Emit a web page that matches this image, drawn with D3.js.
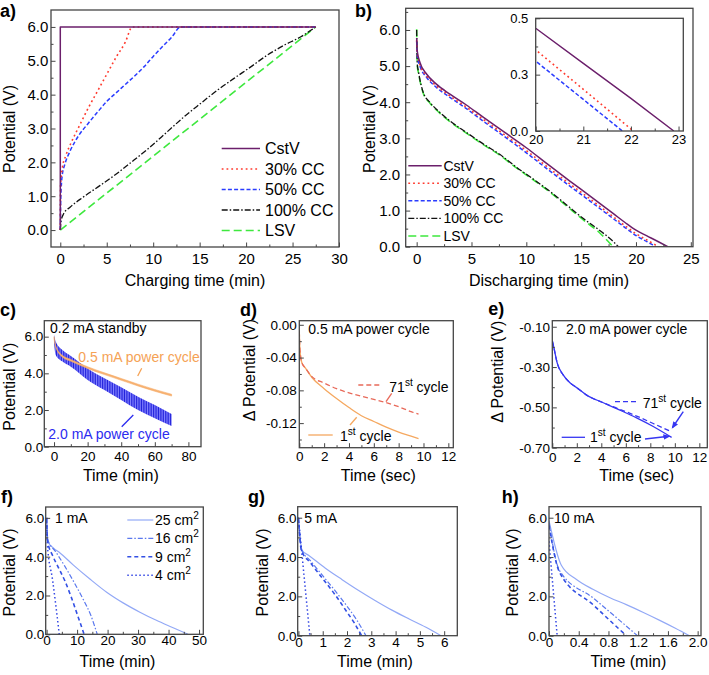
<!DOCTYPE html>
<html><head><meta charset="utf-8">
<script src="https://cdn.jsdelivr.net/npm/d3@7"></script>
<style>body{margin:0;background:#fff}svg{display:block}</style>
</head><body><svg id="chart" width="709" height="675"></svg>
<script>
// ---------------- DATA ----------------
// Panel a: charging
const aCstV_t = [0, 0, 27.5];
const aCstV_v = [0, 6.0, 6.0];
const a30_t = [0, 0.03, 0.2, 0.6, 1.2, 2, 3, 4, 5, 6, 7, 7.75, 27.5];
const a30_v = [0, 1.3, 1.8, 2.2, 2.6, 3.05, 3.6, 4.1, 4.6, 5.1, 5.55, 6.0, 6.0];
const a50_t = [0, 0.05, 0.2, 0.5, 1, 2, 3, 4, 5, 6, 7, 8, 9, 10, 11, 12, 12.95, 27.5];
const a50_v = [0, 0.9, 1.6, 1.95, 2.3, 2.8, 3.15, 3.48, 3.8, 4.05, 4.3, 4.55, 4.82, 5.13, 5.42, 5.7, 6.0, 6.0];
const a100_t = [0, 0.1, 0.36, 1.08, 2.5, 4.3, 6.1, 7.9, 9.7, 11.5, 13.3, 15.1, 16.9, 18.7, 20.5, 22.3, 24.1, 25.9, 27.5];
const a100_v = [0, 0.29, 0.48, 0.68, 0.98, 1.32, 1.67, 2.06, 2.46, 2.9, 3.34, 3.74, 4.13, 4.48, 4.82, 5.17, 5.46, 5.71, 6.0];
const aLSV_t = [0, 27.5];
const aLSV_v = [0, 6.0];

// Panel b: discharging
const bCstV_t = [0, 0.05, 0.3, 0.9, 1.8, 3, 4.5, 6, 8, 10, 12, 14, 16, 18, 19, 20, 21, 22, 22.9];
const bCstV_v = [5.78, 5.42, 5.1, 4.78, 4.5, 4.23, 3.93, 3.6, 3.17, 2.74, 2.27, 1.81, 1.36, 0.9, 0.67, 0.456, 0.30, 0.145, 0];
const b30_t = [0, 0.05, 0.3, 0.9, 1.8, 3, 4.5, 6, 8, 10, 12, 14, 16, 18, 19, 20, 21, 22.05];
const b30_v = [5.72, 5.35, 5.04, 4.73, 4.45, 4.18, 3.87, 3.54, 3.1, 2.66, 2.19, 1.73, 1.28, 0.81, 0.58, 0.36, 0.185, 0];
const b50_t = [0, 0.05, 0.3, 0.9, 1.8, 3, 4.5, 6, 8, 10, 12, 14, 16, 18, 19, 20, 21, 21.82];
const b50_v = [5.68, 5.3, 5.0, 4.69, 4.41, 4.14, 3.83, 3.49, 3.05, 2.6, 2.13, 1.67, 1.22, 0.76, 0.53, 0.31, 0.14, 0];
const b100_t = [0, 0.06, 0.15, 0.6, 1.2, 2.1, 3, 4.5, 6, 7.6, 9.1, 10.6, 12.2, 13.7, 15.2, 16.7, 17.9, 18.4];
const b100_v = [6.0, 5.05, 4.87, 4.27, 4.0, 3.72, 3.49, 3.17, 2.86, 2.55, 2.2, 1.88, 1.52, 1.15, 0.78, 0.45, 0.15, 0];
const bLSV_t = [0, 0.06, 0.15, 0.6, 1.2, 2.1, 3, 4.5, 6, 7.6, 9.1, 10.6, 12.2, 13.7, 15.2, 16.7, 17.9];
const bLSV_v = [6.02, 5.0, 4.83, 4.25, 3.98, 3.7, 3.47, 3.15, 2.84, 2.53, 2.18, 1.86, 1.5, 1.12, 0.74, 0.38, 0];
const legendNames = ["CstV", "30% CC", "50% CC", "100% CC", "LSV"];

// Panel c: standby + power cycles
const c_t = [0, 1, 5, 10, 20, 30, 40, 50, 60, 70];
const cOrangeHi = [6.0, 5.52, 4.98, 4.76, 4.36, 4.03, 3.72, 3.41, 3.12, 2.86];
const cOrangeLo = [5.85, 5.42, 4.88, 4.66, 4.26, 3.93, 3.62, 3.31, 3.02, 2.76];
const cBlueHi = [6.1, 5.73, 5.27, 4.95, 4.27, 3.73, 3.24, 2.73, 2.27, 1.78];
const cBlueLo = [5.6, 5.0, 4.64, 4.36, 3.64, 3.09, 2.55, 2.0, 1.55, 1.13];

// Panel d: 0.5 mA power cycle
const d_t = [0, 0.05, 0.2, 0.5, 1, 2, 3, 4, 5, 6, 7, 8, 9, 9.6];
const d1st = [-0.008, -0.03, -0.046, -0.053, -0.064, -0.078, -0.090, -0.101, -0.111, -0.118, -0.125, -0.131, -0.136, -0.139];
const d71st = [-0.008, -0.03, -0.046, -0.053, -0.063, -0.071, -0.078, -0.083, -0.087, -0.091, -0.095, -0.100, -0.106, -0.109];

// Panel e: 2.0 mA power cycle
const e_t = [0, 0.08, 0.41, 0.9, 1.44, 1.99, 2.8, 4.16, 5.0, 5.52, 6.88, 8.24, 9.74];
const e1st = [-0.17, -0.19, -0.282, -0.340, -0.378, -0.402, -0.439, -0.477, -0.500, -0.514, -0.552, -0.595, -0.649];
const e71st = [-0.17, -0.19, -0.282, -0.340, -0.378, -0.402, -0.439, -0.477, -0.498, -0.510, -0.543, -0.580, -0.621];

// Panels f, g, h: electrode areas
const areaNames = ["25", "16", "9", "4"];
const f25_t = [0, 0.5, 2.2, 4.4, 8.7, 14.2, 19.7, 25.1, 30.6, 36, 41.5, 46.4];
const f25_v = [6.0, 4.75, 4.45, 4.19, 3.58, 2.85, 2.17, 1.62, 1.14, 0.72, 0.34, 0];
const f16_t = [0, 0.3, 3, 6, 9, 12, 14.5, 16.6];
const f16_v = [6.0, 4.9, 4.25, 3.5, 2.68, 1.8, 0.98, 0];
const f9_t = [0, 0.3, 2, 4, 6, 8, 10, 12.3];
const f9_v = [6.0, 4.8, 4.05, 3.4, 2.75, 1.95, 1.05, 0];
const f4_t = [0, 0.2, 2, 4.15];
const f4_v = [6.0, 4.7, 2.75, 0];

const g25_t = [0, 0.15, 0.43, 1.11, 1.8, 2.48, 3.17, 3.85, 4.54, 5.23, 5.87];
const g25_v = [6.0, 4.34, 4.08, 3.43, 2.85, 2.3, 1.78, 1.3, 0.86, 0.44, 0];
const g16_t = [0, 0.12, 0.5, 1, 1.5, 2, 2.4, 2.78];
const g16_v = [6.0, 4.4, 3.8, 3.05, 2.3, 1.5, 0.8, 0];
const g9_t = [0, 0.12, 0.5, 1, 1.5, 2, 2.3, 2.6];
const g9_v = [6.0, 4.35, 3.7, 2.9, 2.1, 1.2, 0.65, 0];
const g4_t = [0, 0.47];
const g4_v = [6.0, 0];

const h25_t = [0, 0.166, 0.37, 0.59, 0.82, 1.04, 1.27, 1.49, 1.7, 1.89];
const h25_v = [5.85, 3.58, 2.86, 2.36, 1.93, 1.58, 1.18, 0.78, 0.38, 0];
const h16_t = [0, 0.14, 0.6, 1.19];
const h16_v = [5.75, 3.32, 1.9, 0];
const h9_t = [0, 0.14, 0.6, 1.04];
const h9_v = [5.6, 3.24, 1.55, 0];
const h4_t = [0, 0.11];
const h4_v = [4.8, 0];

// ---------------- RENDER ----------------
const FONT = '"Liberation Sans", Arial, Helvetica, sans-serif';
const FRAME = '#454545';
const svg = d3.select('#chart');
const defs = svg.append('defs');
let clipN = 0;

function range(a, b, s) { const r = []; for (let v = a; v <= b + 1e-9; v += s) r.push(+v.toFixed(4)); return r; }

function panel(o) {
  const x = d3.scaleLinear().domain(o.xd).range([o.L, o.R]);
  const y = d3.scaleLinear().domain(o.yd).range([o.B, o.T]);
  const g = svg.append('g');
  g.append('rect').attr('x', o.L).attr('y', o.T).attr('width', o.R - o.L).attr('height', o.B - o.T).attr('fill', '#fff');
  const cid = 'clip' + (clipN++);
  defs.append('clipPath').attr('id', cid).append('rect')
    .attr('x', o.L).attr('y', o.T).attr('width', o.R - o.L).attr('height', o.B - o.T);
  const plot = g.append('g').attr('clip-path', `url(#${cid})`);
  const axG = g.append('g');
  const style = s => {
    s.select('.domain').remove();
    s.attr('font-family', FONT).attr('font-size', o.fs);
    s.selectAll('line').attr('stroke', FRAME).attr('stroke-width', 1);
    s.selectAll('text').attr('fill', '#000');
  };
  axG.append('g').attr('transform', `translate(0,${o.B})`)
    .call(d3.axisBottom(x).tickValues(o.xMinor).tickSize(-2.5).tickFormat('')).call(style);
  axG.append('g').attr('transform', `translate(0,${o.B})`)
    .call(d3.axisBottom(x).tickValues(o.xTicks).tickSize(-4.5).tickPadding(o.xPad).tickFormat((d, i) => o.xLabels[i])).call(style);
  axG.append('g').attr('transform', `translate(${o.L},0)`)
    .call(d3.axisLeft(y).tickValues(o.yMinor).tickSize(-2.5).tickFormat('')).call(style);
  axG.append('g').attr('transform', `translate(${o.L},0)`)
    .call(d3.axisLeft(y).tickValues(o.yTicks).tickSize(-4.5).tickPadding(o.yPad).tickFormat((d, i) => o.yLabels[i])).call(style);
  const p = { x, y, g, plot, o };
  p.frame = () => g.append('rect').attr('x', o.L).attr('y', o.T).attr('width', o.R - o.L).attr('height', o.B - o.T)
    .attr('fill', 'none').attr('stroke', FRAME).attr('stroke-width', 1.3);
  return p;
}

function line(p, xs, ys, st) {
  const pts = xs.map((t, i) => [t, ys[i]]);
  p.plot.append('path').datum(pts)
    .attr('d', d3.line().x(d => p.x(d[0])).y(d => p.y(d[1])).curve(st.curve || d3.curveMonotoneX))
    .attr('fill', 'none').attr('stroke', st.c).attr('stroke-width', st.w || 1.3)
    .attr('stroke-dasharray', st.dash || null).attr('stroke-linejoin', 'round');
}

function text(x, y, str, o = {}) {
  const t = svg.append('text').attr('x', x).attr('y', y).attr('font-family', FONT)
    .attr('font-size', o.fs || 14).attr('fill', o.c || '#000').attr('text-anchor', o.anchor || 'start')
    .attr('font-weight', o.bold ? 'bold' : null);
  if (o.rot) t.attr('transform', `rotate(-90,${x},${y})`);
  t.text(str);
  return t;
}
function supText(x, y, base, sup, rest, o = {}) {
  const fs = o.fs || 14;
  const t = svg.append('text').attr('x', x).attr('y', y).attr('font-family', FONT)
    .attr('font-size', fs).attr('fill', o.c || '#000');
  t.append('tspan').text(base);
  t.append('tspan').attr('font-size', fs * 0.72).attr('dy', -fs * 0.42).text(sup);
  if (rest) t.append('tspan').attr('dy', fs * 0.42).text(rest);
  return t;
}
function seg(x1, y1, x2, y2, c, w, dash, marker) {
  const l = svg.append('line').attr('x1', x1).attr('y1', y1).attr('x2', x2).attr('y2', y2)
    .attr('stroke', c).attr('stroke-width', w || 1.3).attr('stroke-dasharray', dash || null);
  if (marker) l.attr('marker-end', `url(#${marker})`);
}
function arrowMarker(id, c) {
  defs.append('marker').attr('id', id).attr('viewBox', '0 0 10 10').attr('refX', 8).attr('refY', 5)
    .attr('markerWidth', 5).attr('markerHeight', 5).attr('orient', 'auto')
    .append('path').attr('d', 'M0,1 L10,5 L0,9 Z').attr('fill', c);
}

// styles
const S = {
  cstv: { c: '#6b1f6b', w: 1.5 },
  cc30: { c: '#ff3a2e', w: 1.6, dash: '1.8,3' },
  cc50: { c: '#2a3cff', w: 1.5, dash: '4,2.2' },
  cc100: { c: '#111', w: 1.3, dash: '6,2,1.5,2' },
  lsv: { c: '#3ee83e', w: 1.6, dash: '8,4' }
};
const lab1 = ["0.0", "1.0", "2.0", "3.0", "4.0", "5.0", "6.0"];

// ---- Panel a ----
const pa = panel({ L: 51, R: 339, T: 10, B: 247, xd: [-1, 30], yd: [-0.5, 6.5], fs: 15,
  xTicks: [0, 5, 10, 15, 20, 25, 30], xLabels: ["0", "5", "10", "15", "20", "25", "30"], xMinor: range(2.5, 27.5, 5),
  yTicks: [0, 1, 2, 3, 4, 5, 6], yLabels: lab1, yMinor: range(0.5, 5.5, 1), xPad: 6.3, yPad: 2.7 });
line(pa, aLSV_t, aLSV_v, S.lsv);
line(pa, a100_t, a100_v, S.cc100);
line(pa, a50_t, a50_v, S.cc50);
line(pa, a30_t, a30_v, S.cc30);
line(pa, aCstV_t, aCstV_v, Object.assign({ curve: d3.curveLinear }, S.cstv));
pa.frame();
const aSt = [S.cstv, S.cc30, S.cc50, S.cc100, S.lsv];
const aRows = [148.5, 169, 189.5, 210, 230.5];
legendNames.forEach((n, i) => {
  seg(221.7, aRows[i], 260, aRows[i], aSt[i].c, aSt[i].w, aSt[i].dash);
  text(265, aRows[i] + 5.7, n, { fs: 16 });
});
text(195, 286, 'Charging time (min)', { fs: 16, anchor: 'middle' });
text(15, 129, 'Potential (V)', { fs: 16, anchor: 'middle', rot: true });
text(0, 16.5, 'a)', { fs: 18, bold: true });

// ---- Panel b ----
const pb = panel({ L: 405.7, R: 693, T: 8.3, B: 246.7, xd: [-1, 25.2], yd: [0, 6.6], fs: 15,
  xTicks: [0, 5, 10, 15, 20, 25], xLabels: ["0", "5", "10", "15", "20", "25"], xMinor: range(2.5, 22.5, 5),
  yTicks: [0, 1, 2, 3, 4, 5, 6], yLabels: lab1, yMinor: range(0.5, 6.5, 1), xPad: 6.6, yPad: 5.7 });
line(pb, bLSV_t, bLSV_v, S.lsv);
line(pb, b100_t, b100_v, S.cc100);
line(pb, b50_t, b50_v, S.cc50);
line(pb, b30_t, b30_v, S.cc30);
line(pb, bCstV_t, bCstV_v, S.cstv);
pb.frame();
const bRows = [165.7, 183.3, 200.8, 218.4, 236];
legendNames.forEach((n, i) => {
  seg(408.3, bRows[i], 441.7, bRows[i], aSt[i].c, aSt[i].w, aSt[i].dash);
  text(443.5, bRows[i] + 5, n, { fs: 14 });
});
text(549, 286, 'Discharging time (min)', { fs: 16, anchor: 'middle' });
text(375, 129, 'Potential (V)', { fs: 16, anchor: 'middle', rot: true });
text(355, 16.5, 'b)', { fs: 18, bold: true });

// inset
const pi = panel({ L: 535.7, R: 683.3, T: 18.3, B: 131, xd: [20, 23.1], yd: [0, 0.5], fs: 13,
  xTicks: [20, 21, 22, 23], xLabels: ["20", "21", "22", "23"], xMinor: [20.5, 21.5, 22.5],
  yTicks: [0, 0.25, 0.5], yLabels: ["0.0", "0.3", "0.5"], yMinor: [0.125, 0.375], xPad: 4, yPad: 7.4 });
line(pi, bCstV_t, bCstV_v, { c: S.cstv.c, w: 1.4, curve: d3.curveLinear });
line(pi, b30_t, b30_v, { c: S.cc30.c, w: 1.6, dash: S.cc30.dash, curve: d3.curveLinear });
line(pi, b50_t, b50_v, { c: S.cc50.c, w: 1.5, dash: S.cc50.dash, curve: d3.curveLinear });
pi.frame();

// ---- Panel c ----
const pat = defs.append('pattern').attr('id', 'hatch').attr('patternUnits', 'userSpaceOnUse')
  .attr('width', 1.7).attr('height', 4);
pat.append('rect').attr('width', 1.7).attr('height', 4).attr('fill', '#8484ff');
pat.append('rect').attr('width', 0.85).attr('height', 4).attr('fill', '#2020da');
const pc = panel({ L: 44.3, R: 201, T: 320.7, B: 446.7, xd: [-5.8, 87.5], yd: [0, 6.87], fs: 13.5,
  xTicks: [0, 20, 40, 60, 80], xLabels: ["0", "20", "40", "60", "80"], xMinor: [10, 30, 50, 70],
  yTicks: [0, 2, 4, 6], yLabels: ["0.0", "2.0", "4.0", "6.0"], yMinor: [1, 3, 5], xPad: 5, yPad: 1 });
const cBlue = c_t.map((t, i) => [t, cBlueLo[i], cBlueHi[i]]);
pc.plot.append('path').datum(cBlue)
  .attr('d', d3.area().x(d => pc.x(d[0])).y0(d => pc.y(d[1])).y1(d => pc.y(d[2])).curve(d3.curveMonotoneX))
  .attr('fill', 'url(#hatch)');
const cOr = c_t.map((t, i) => [t, cOrangeLo[i], cOrangeHi[i]]);
pc.plot.append('path').datum(cOr)
  .attr('d', d3.area().x(d => pc.x(d[0])).y0(d => pc.y(d[1])).y1(d => pc.y(d[2])).curve(d3.curveMonotoneX))
  .attr('fill', '#f7b272').attr('stroke', '#f4a45c').attr('stroke-width', 0.5);
pc.frame();
text(50, 332.7, '0.2 mA standby', { fs: 14 });
text(78.3, 362, '0.5 mA power cycle', { fs: 14, c: '#f5a255' });
seg(141.7, 368.3, 137.7, 376, '#f5a255', 1.3);
text(48.3, 439, '2.0 mA power cycle', { fs: 14, c: '#2b2bef' });
seg(121.7, 426.7, 133.3, 415, '#2b2bef', 1.3);
text(120.8, 481, 'Time (min)', { fs: 16, anchor: 'middle' });
text(15, 386.7, 'Potential (V)', { fs: 16, anchor: 'middle', rot: true });
text(0, 316, 'c)', { fs: 18, bold: true });

// ---- Panel d ----
const pd = panel({ L: 299.3, R: 453.3, T: 320.7, B: 447.7, xd: [0, 12.4], yd: [-0.15, 0.005], fs: 13.5,
  xTicks: [0, 2, 4, 6, 8, 10, 12], xLabels: ["0", "2", "4", "6", "8", "10", "12"], xMinor: [1, 3, 5, 7, 9, 11],
  yTicks: [0, -0.04, -0.08, -0.12], yLabels: ["0.00", "-0.04", "-0.08", "-0.12"], yMinor: [-0.02, -0.06, -0.10, -0.14], xPad: 4, yPad: 2.6 });
line(pd, d_t, d1st, { c: '#f5a860', w: 1.3 });
line(pd, d_t, d71st, { c: '#e86a5a', w: 1.3, dash: '5,3' });
pd.frame();
text(308.3, 334.3, '0.5 mA power cycle', { fs: 14 });
seg(358.3, 385, 381.7, 385, '#e86a5a', 1.3, '5,3');
supText(389.3, 391.5, '71', 'st', ' cycle', { fs: 14 });
seg(391.7, 393.3, 386, 401.7, '#e86a5a', 1.3);
seg(308.3, 435, 332.7, 435, '#f5a860', 1.3);
supText(340, 440.5, '1', 'st', ' cycle', { fs: 14 });
seg(356.7, 417.3, 350, 425, '#f5a860', 1.3);
text(378.3, 481, 'Time (sec)', { fs: 16, anchor: 'middle' });
text(254.6, 370, '\u0394 Potential (V)', { fs: 16, anchor: 'middle', rot: true });
text(240, 316, 'd)', { fs: 18, bold: true });

// ---- Panel e ----
const pe = panel({ L: 552.3, R: 707.3, T: 320.7, B: 447.7, xd: [0, 12.65], yd: [-0.70, -0.07], fs: 13.5,
  xTicks: [0, 2, 4, 6, 8, 10, 12], xLabels: ["0", "2", "4", "6", "8", "10", "12"], xMinor: [1, 3, 5, 7, 9, 11],
  yTicks: [-0.1, -0.3, -0.5, -0.7], yLabels: ["-0.10", "-0.30", "-0.50", "-0.70"], yMinor: [-0.2, -0.4, -0.6], xPad: 4.5, yPad: 2.2 });
const eBlue = '#3636f2';
arrowMarker('arrE', eBlue);
line(pe, e_t, e71st, { c: eBlue, w: 1.3, dash: '5,3' });
line(pe, e_t, e1st, { c: eBlue, w: 1.3 });
pe.frame();
text(566, 334.3, '2.0 mA power cycle', { fs: 14 });
seg(615, 401.7, 638.3, 401.7, eBlue, 1.3, '5,3');
supText(642.7, 408.3, '71', 'st', ' cycle', { fs: 14 });
seg(683.3, 411.7, 672.5, 427.5, eBlue, 1.4, null, 'arrE');
seg(561.7, 437.3, 585, 437.3, eBlue, 1.3);
supText(590, 441.7, '1', 'st', ' cycle', { fs: 14 });
seg(645, 439, 669, 436.3, eBlue, 1.4, null, 'arrE');
text(636.7, 481, 'Time (sec)', { fs: 16, anchor: 'middle' });
text(503.3, 371.7, '\u0394 Potential (V)', { fs: 16, anchor: 'middle', rot: true });
text(488.3, 315, 'e)', { fs: 18, bold: true });

// ---- Panels f, g, h ----
const AS = [
  { c: '#93a9f6', w: 1.2 },
  { c: '#5a78ee', w: 1.2, dash: '5,2,1.5,2' },
  { c: '#3350e4', w: 1.6, dash: '4,3' },
  { c: '#3447e4', w: 1.5, dash: '1.5,2.5' }
];
const yl6 = { yTicks: [0, 2, 4, 6], yLabels: ["0.0", "2.0", "4.0", "6.0"], yMinor: [1, 3, 5], fs: 13.5 };

const pf = panel(Object.assign({ L: 45.7, R: 203.3, T: 507, B: 634.3, xd: [-0.3, 51.4], yd: [0, 6.56],
  xTicks: [0, 10, 20, 30, 40, 50], xLabels: ["0", "10", "20", "30", "40", "50"], xMinor: [5, 15, 25, 35, 45], xPad: 1.2, yPad: 1.4 }, yl6));
line(pf, f25_t, f25_v, AS[0]); line(pf, f16_t, f16_v, AS[1]); line(pf, f9_t, f9_v, AS[2]); line(pf, f4_t, f4_v, AS[3]);
pf.frame();
const fRows = [520, 538.3, 556.8, 575.2];
areaNames.forEach((n, i) => {
  seg(127.3, fRows[i], 153.3, fRows[i], AS[i].c, AS[i].w, AS[i].dash);
  supText(155, fRows[i] + 5, n + ' cm', '2', null, { fs: 14 });
});
text(55, 523, '1 mA', { fs: 14 });
text(117.5, 667, 'Time (min)', { fs: 16, anchor: 'middle' });
text(15, 572.5, 'Potential (V)', { fs: 16, anchor: 'middle', rot: true });
text(1, 503, 'f)', { fs: 18, bold: true });

const pg = panel(Object.assign({ L: 297.7, R: 457.3, T: 506.7, B: 635.7, xd: [-0.03, 6.54], yd: [0, 6.56],
  xTicks: [0, 1, 2, 3, 4, 5, 6], xLabels: ["0", "1", "2", "3", "4", "5", "6"], xMinor: [0.5, 1.5, 2.5, 3.5, 4.5, 5.5], xPad: 2, yPad: 1.2 }, yl6));
line(pg, g25_t, g25_v, AS[0]); line(pg, g16_t, g16_v, AS[1]); line(pg, g9_t, g9_v, AS[2]); line(pg, g4_t, g4_v, AS[3]);
pg.frame();
text(304.3, 523, '5 mA', { fs: 14 });
text(375, 667, 'Time (min)', { fs: 16, anchor: 'middle' });
text(268.3, 572.5, 'Potential (V)', { fs: 16, anchor: 'middle', rot: true });
text(248, 503, 'g)', { fs: 18, bold: true });

const ph = panel(Object.assign({ L: 549, R: 701, T: 506.7, B: 635.7, xd: [0, 2.045], yd: [0, 6.56],
  xTicks: [0, 0.4, 0.8, 1.2, 1.6, 2.0], xLabels: ["0", "0.4", "0.8", "1.2", "1.6", "2.0"], xMinor: [0.2, 0.6, 1.0, 1.4, 1.8], xPad: 2, yPad: 2 }, yl6));
line(ph, h25_t, h25_v, AS[0]); line(ph, h16_t, h16_v, AS[1]); line(ph, h9_t, h9_v, AS[2]); line(ph, h4_t, h4_v, AS[3]);
ph.frame();
text(554, 523, '10 mA', { fs: 14 });
text(628.3, 667, 'Time (min)', { fs: 16, anchor: 'middle' });
text(518.3, 572.5, 'Potential (V)', { fs: 16, anchor: 'middle', rot: true });
text(501.7, 503, 'h)', { fs: 18, bold: true });
</script></body></html>
